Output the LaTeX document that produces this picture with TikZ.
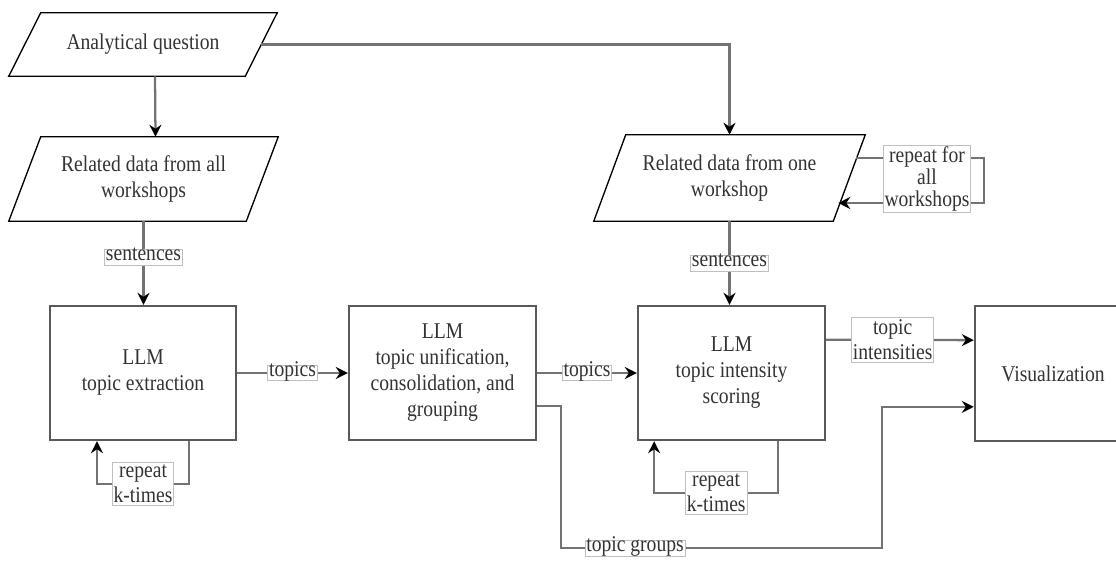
\documentclass[tikz,border=0pt]{standalone}
\usepackage{fontspec}
\setmainfont{Liberation Serif}[FakeStretch=0.87]
\usetikzlibrary{arrows.meta}

% outline of a data (parallelogram) node
\newcommand{\dataframe}[1]{%
  \draw[datafr] ([xshift=24pt]#1.north west) -- (#1.north east)
    -- ([xshift=-24pt]#1.south east) -- (#1.south west) -- cycle;}

\begin{document}
\begin{tikzpicture}[x=0.75pt,y=-0.75pt,
  font=\fontsize{16.9pt}{19.5pt}\selectfont,
  every node/.style={text=black!80},
  datanode/.style={align=center,inner sep=0pt,minimum width=#1},
  datafr/.style={draw=black,line width=1pt},
  procbox/.style={draw=black!65,line width=1.8pt,align=center,
    minimum width=#1,minimum height=100.5pt},
  conn/.style={draw=black!55,line width=1.7pt,
    -{Stealth[length=9pt,width=9pt,inset=3pt,black]}},
  lbl/.style={draw=black!25,line width=0.5pt,fill=white,inner xsep=1pt,
    inner ysep=2pt,align=center,font=\fontsize{16.9pt}{18.75pt}\selectfont},
  lblone/.style={lbl,inner ysep=1pt,text height=0.72em,text depth=0.25em}]

\useasboundingbox (0,0) rectangle (1116,560);
\clip (0,0) rectangle (1116,560);

% Data nodes
\node[datanode=201pt,minimum height=47.25pt] (aq) at (143,44.5) {Analytical question};
\node[datanode=201.75pt,minimum height=63pt] (rda) at (143.5,179) {Related data from all\\workshops};
\node[datanode=203.25pt,minimum height=64.5pt] (rdo) at (729.5,178) {Related data from one\\workshop};
\dataframe{aq}
\dataframe{rda}
\dataframe{rdo}

% Processing boxes
\node[procbox=139.5pt] (ex) at (143,373) {LLM\\topic extraction};
\node[procbox=140.25pt] (un) at (442.5,373) {LLM\\topic unification,\\consolidation, and\\grouping};
\node[procbox=140.25pt] (sc) at (731.5,373) {LLM\\topic intensity\\scoring};
\node[procbox=117pt,minimum height=101.25pt] (vis) at (1053,373.5) {Visualization};

% Question to the data
\draw[conn] ([xshift=9pt]aq.south) -- ([xshift=9pt]rda.north);
\draw[conn] ([xshift=-12pt]aq.east) -| (rdo.north);

% Sentences into the LLM boxes
\draw[conn] (rda.south) -- node[lblone,pos=0.43] (sen1) {sentences} (rda.south |- ex.north);
\draw[conn] (rdo.south) -- node[lblone] (sen2) {sentences} (rdo.south |- sc.north);

% Repeat for all workshops
\draw[conn] ([xshift=-6.75pt,yshift=15pt]rdo.east) -- ++(128,0)
  |- ([xshift=-20.25pt,yshift=-18.75pt]rdo.east);
\node[lbl,inner ysep=1pt,font=\fontsize{16.9pt}{16.5pt}\selectfont] (rpw) at (927,179) {repeat for\\all\\workshops};

% Repeat k-times loops
\draw[conn] ([xshift=34.5pt]ex.south) -- ++(0,43)
  -| node[lbl,pos=0.25] (rk1) {repeat\\k-times} ([xshift=-34.5pt]ex.south);
\draw[conn] ([xshift=35pt]sc.south) -- ++(0,52)
  -| node[lbl,pos=0.25] (rk2) {repeat\\k-times} ([xshift=-58pt]sc.south);

% Topics between the LLM boxes
\draw[conn] (ex) -- node[lblone] (tp1) {topics} (un);
\draw[conn] (un) -- node[lblone] (tp2) {topics} (sc);

% Results to the visualization
\draw[conn] ([yshift=25pt]sc.east) -- node[lbl,pos=0.45] (tin) {topic\\intensities} ([yshift=25pt]vis.west);
\draw[conn] ([yshift=-25pt]un.east) -- ++(24,0) -- ++(0,142)
  -- node[lblone,pos=0.23] (tgr) {topic groups} ++(321,0) |- ([yshift=-25pt]vis.west);

\end{tikzpicture}
\end{document}
